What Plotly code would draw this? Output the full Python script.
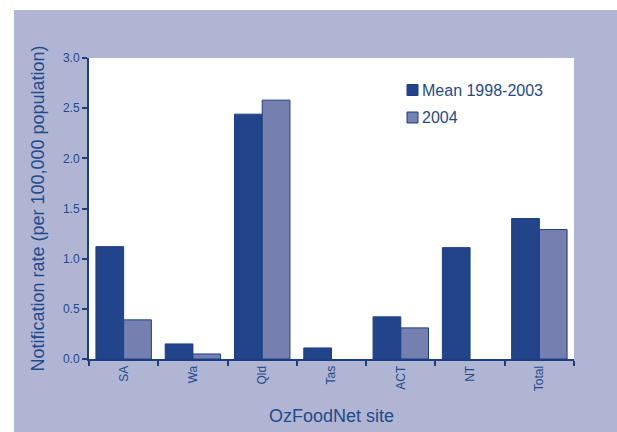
import plotly.graph_objects as go

# data
sites = ['SA', 'Wa', 'Qld', 'Tas', 'ACT', 'NT', 'Total']
mean_98_03 = [1.12, 0.15, 2.44, 0.11, 0.42, 1.11, 1.40]
rate_2004 = [0.39, 0.05, 2.58, 0.0, 0.31, 0.0, 1.29]
series_names = ['Mean 1998-2003', '2004']

DARK = '#22448a'
LIGHT = '#7680b0'
EDGE = '#1c3f82'
TEXT = '#1f4a8c'
LAVENDER = '#b1b5d4'
FONT = 'Liberation Sans, Arial, sans-serif'

W, H = 617, 432
ML, MR, MT, MB = 89, 43, 58, 73
PW, PH = W - ML - MR, H - MT - MB


def px_x(p):
    return (p - ML) / PW


def px_y(p):
    return (H - MB - p) / PH


def edge_widths(vals):
    # no outline on empty bars, otherwise a hairline shows above the axis
    return [1 if v > 0 else 0 for v in vals]


fig = go.Figure()
fig.add_trace(go.Bar(x=sites, y=mean_98_03, name=series_names[0],
                     marker=dict(color=DARK, line=dict(color=EDGE, width=edge_widths(mean_98_03)))))
fig.add_trace(go.Bar(x=sites, y=rate_2004, name=series_names[1],
                     marker=dict(color=LIGHT, line=dict(color=EDGE, width=edge_widths(rate_2004)))))

shapes = [
    # white strips along top and left edge of the page
    dict(type='rect', xref='paper', yref='paper', x0=px_x(-5), x1=px_x(14), y0=px_y(440), y1=px_y(-5),
         fillcolor='white', line=dict(width=0), layer='below'),
    dict(type='rect', xref='paper', yref='paper', x0=px_x(-5), x1=px_x(625), y0=px_y(10), y1=px_y(-5),
         fillcolor='white', line=dict(width=0), layer='below'),
]
annotations = []
# hand-drawn legend, tight like the original
for i, (nm, col) in enumerate(zip(series_names, [DARK, LIGHT])):
    cy = 90 + i * 27.5
    shapes.append(dict(type='rect', xref='paper', yref='paper',
                       x0=px_x(407), x1=px_x(418), y0=px_y(cy + 5.5), y1=px_y(cy - 5.5),
                       fillcolor=col, line=dict(color=EDGE, width=1)))
    annotations.append(dict(text=nm, xref='paper', yref='paper', x=px_x(420), y=px_y(cy),
                            xanchor='left', yanchor='middle', showarrow=False,
                            font=dict(size=16, color=TEXT, family=FONT)))

fig.update_layout(
    width=W, height=H,
    margin=dict(l=ML, r=MR, t=MT, b=MB, autoexpand=False),
    paper_bgcolor=LAVENDER, plot_bgcolor='white',
    font=dict(family=FONT, color=TEXT, size=12),
    barmode='group', bargap=0.2, bargroupgap=0,
    showlegend=False,
    shapes=shapes, annotations=annotations,
)
fig.update_xaxes(
    showline=True, linecolor=EDGE, linewidth=2, mirror=False,
    ticks='outside', ticklen=5, tickwidth=1.5, tickcolor=EDGE,
    tickson='boundaries', tickangle=-90, tickfont=dict(size=12, color=TEXT),
    showgrid=False,
    title=dict(text='OzFoodNet site', font=dict(size=18, color=TEXT), standoff=19),
    automargin=False,
)
fig.update_yaxes(
    range=[0, 3], dtick=0.5, tickformat='.1f',
    showline=True, linecolor=EDGE, linewidth=2,
    ticks='outside', ticklen=5, tickwidth=1.5, tickcolor=EDGE,
    tickfont=dict(size=12, color=TEXT), showgrid=False, zeroline=False,
    title=dict(text='Notification rate (per 100,000 population)', font=dict(size=18, color=TEXT), standoff=14),
    automargin=False,
)

fig.write_html('out.html', config={'displayModeBar': False},
               post_script="document.body.style.margin='0';")
